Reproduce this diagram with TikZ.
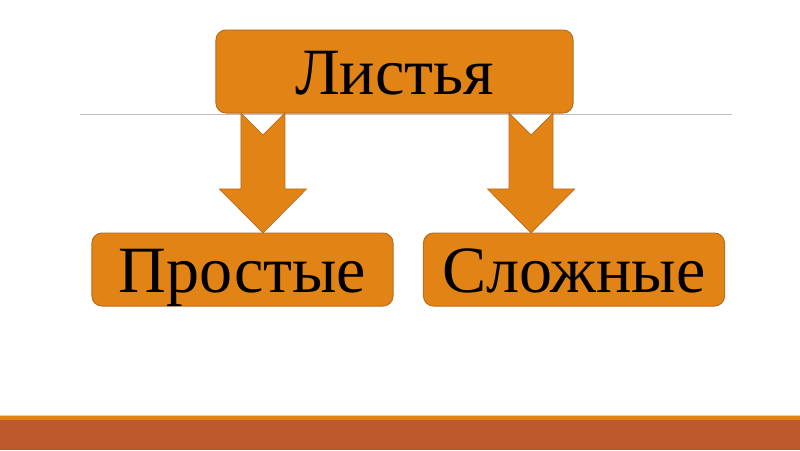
\documentclass[tikz,border=0pt]{standalone}
\usepackage{fontspec}
\setmainfont{Liberation Serif}
\usetikzlibrary{positioning, calc}

\definecolor{boxfill}{RGB}{226,131,21}
\definecolor{boxline}{RGB}{186,108,30}
\definecolor{bandbrown}{RGB}{190,89,45}
\definecolor{bandorange}{RGB}{226,131,21}
\definecolor{bandlight}{RGB}{242,205,160}

\begin{document}
\begin{tikzpicture}[
    x=0.025cm, y=-0.025cm,
    box/.style={
        rectangle, rounded corners=0.25cm,
        draw=boxline, fill=boxfill, line width=0.7pt,
        font=\fontsize{47}{50}\selectfont,
        text height=33.4pt, text depth=0pt,
        inner sep=0pt, outer sep=0pt,
    },
    topbox/.style={box, minimum width=8.925cm, minimum height=2.075cm},
    kindbox/.style={box, minimum width=7.525cm, minimum height=1.825cm},
    blockarrow/.style={draw=boxline, fill=boxfill, line width=0.5pt, line join=miter},
]
\useasboundingbox (0,0) rectangle (800,450);

% --- bottom band ---
\fill[bandbrown] (0,420) rectangle (800,450);
\fill[bandorange] (0,416) rectangle (800,420);
\fill[bandlight] (0,415) rectangle (800,416);

% --- rule behind the title ---
\draw[black!25, line width=0.6pt] (80,114) -- (732,114);

% --- boxes ---
\node[topbox] (top) at (394.5,71.5) {Листья};
\node[kindbox] (simple) at (242.5,269.5) {Простые};
\node[kindbox] (compound) at (574,269.5) {Сложные};

% --- arrow starts on the top box ---
\coordinate (s1) at ($(top.south west)+(47,0)$);
\coordinate (s2) at ($(top.south east)+(-42,0)$);

% --- block arrows, notch at the top, tip on the lower box ---
\foreach \s/\t in {s1/simple, s2/compound}{
    \coordinate (e) at (\s |- \t.north);
    \draw[blockarrow]
        ($(\s)+(-22,0)$) -- ($(e)+(-22,-44)$) -- ($(e)+(-43.5,-44)$)
        -- (e) -- ($(e)+(43.5,-44)$) -- ($(e)+(22,-44)$)
        -- ($(\s)+(22,0)$) -- ($(\s)+(0,22)$) -- cycle;
}

\end{tikzpicture}
\end{document}
